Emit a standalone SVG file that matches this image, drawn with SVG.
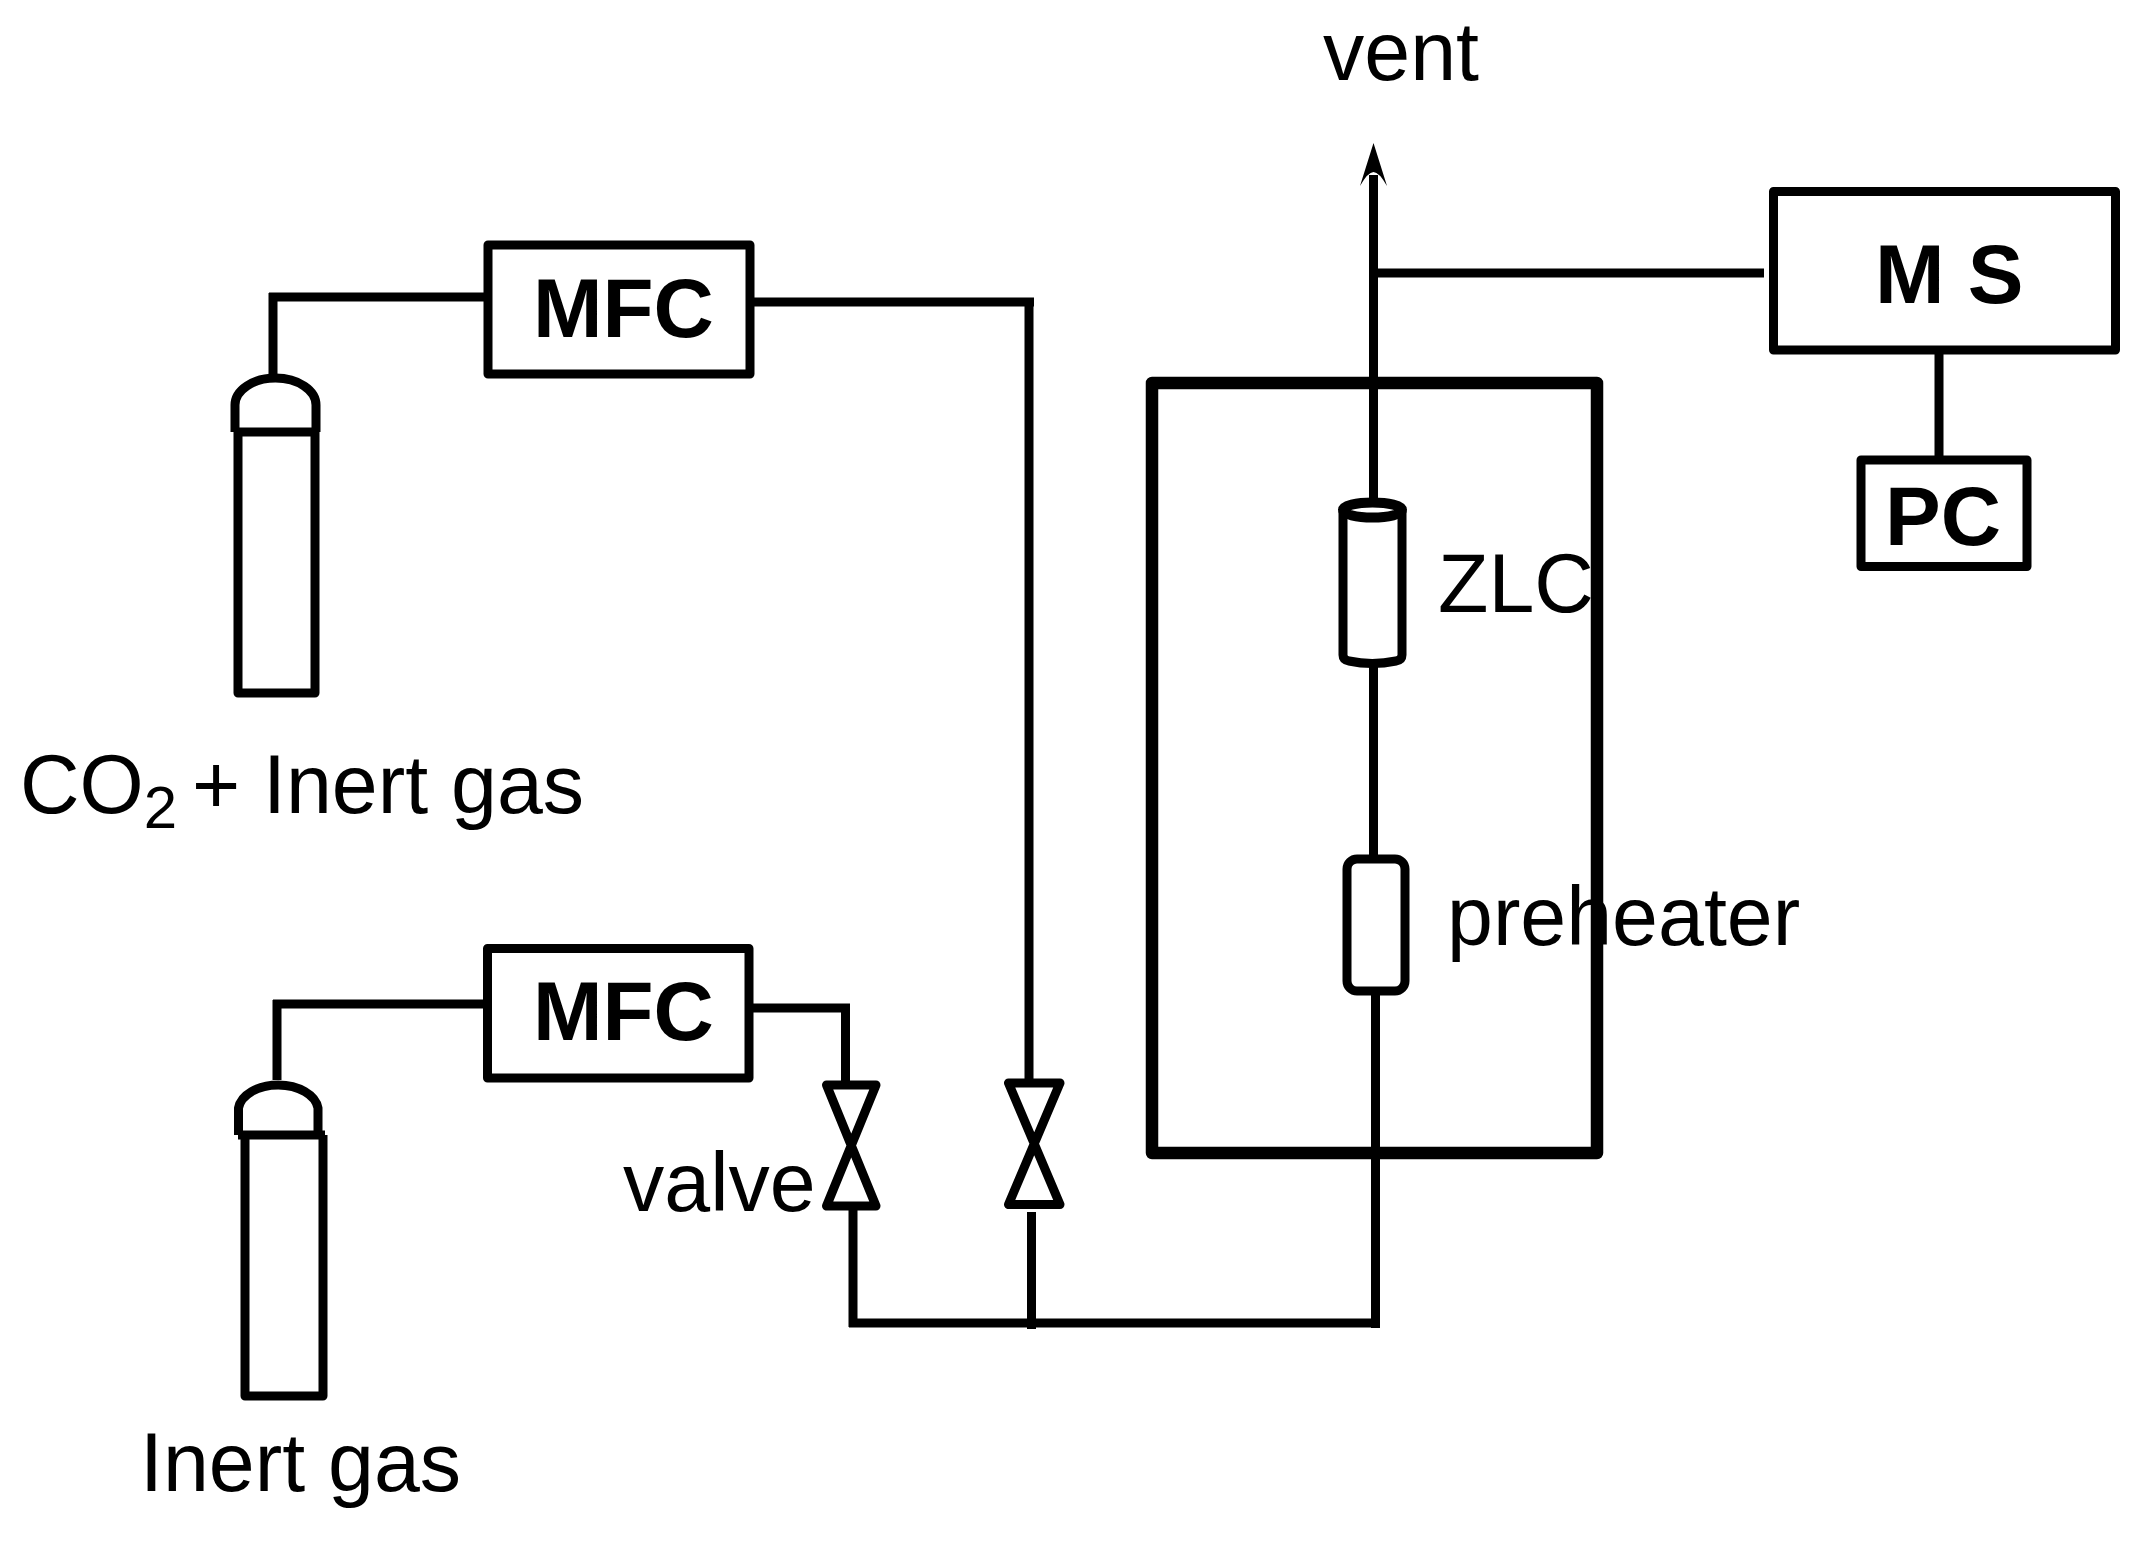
<svg xmlns="http://www.w3.org/2000/svg" width="2143" height="1541" viewBox="0 0 2143 1541">
<style>
.s{fill:none;stroke:#000;stroke-width:9;stroke-linejoin:round;stroke-linecap:butt}
text{font-family:"Liberation Sans",Arial,sans-serif;font-size:82.500px;fill:#000}
.bd{font-weight:bold;font-size:83.500px}
</style>
<rect width="2143" height="1541" fill="#fff"/>
<g id="furnace"><path d="M1152 383H1597V1153H1152Z" fill="none" stroke="#000" stroke-width="12.5" stroke-linejoin="round"/></g>
<g id="connectors">
<path class="s" d="M484 297H269M273 293V376"/>
<path class="s" d="M754 302H1034M1029 298V1080"/>
<path class="s" d="M484 1004H273M277 1000V1080"/>
<path class="s" d="M753 1008H850M845.500 1004V1082"/>
<path class="s" d="M853 1210V1327M1031.500 1212V1329M849 1323H1379"/>
<path class="s" d="M1373.500 501V175M1373.500 273H1764"/>
<path class="s" d="M1373.500 667V857M1375.500 995V1328"/>
<path class="s" d="M1939 354V460"/>
</g>
<g id="arrow-vent"><path d="M1373.500 143L1387 186Q1379 172 1373.500 172Q1368 172 1360 186Z" fill="#000"/></g>
<g id="mfc1"><rect class="s" x="488" y="245" width="262" height="129"/><text class="bd" x="533" y="337">MFC</text></g>
<g id="mfc2"><rect class="s" x="487.500" y="948.500" width="261.500" height="129.500"/><text class="bd" x="533" y="1040">MFC</text></g>
<g id="cylinder1"><path class="s" d="M235 432H317M238 432V693H315V432M235 432V405A40.500 27 0 0 1 316 405V432"/></g>
<g id="cylinder2"><path class="s" d="M238 1135H325M245 1135V1396H323V1135M238.500 1135V1108A40 26 0 0 1 318 1108V1135"/></g>
<g id="valve1"><path class="s" d="M826.500 1085H876L826.500 1206H876Z"/></g>
<g id="valve2"><path class="s" d="M1008.500 1083H1060L1008.500 1204.500H1060Z"/></g>
<g id="zlc"><path class="s" d="M1343 511V655Q1343 660 1349 661Q1372 666 1396 661Q1402 660 1402 655V511"/><ellipse cx="1372.500" cy="510" rx="29.500" ry="7.500" fill="none" stroke="#000" stroke-width="10"/></g>
<g id="preheater"><rect class="s" x="1347" y="859" width="58" height="132" rx="10"/></g>
<g id="ms"><path class="s" d="M1773.500 191.500H2115.500V350H1773.500Z"/><text class="bd" x="1875" y="303">M S</text></g>
<g id="pc"><rect class="s" x="1861" y="460" width="166" height="106.500"/><text class="bd" x="1885" y="545">PC</text></g>
<g id="labels">
<text x="1323" y="80">vent</text>
<text x="1438" y="612">ZLC</text>
<text x="1447" y="945">preheater</text>
<text x="623" y="1211">valve</text>
<text x="20" y="813">CO<tspan dy="15" font-size="60">2</tspan><tspan dy="-15" x="192">+</tspan><tspan x="263">Inert gas</tspan></text>
<text x="140" y="1491">Inert gas</text>
</g>
</svg>
